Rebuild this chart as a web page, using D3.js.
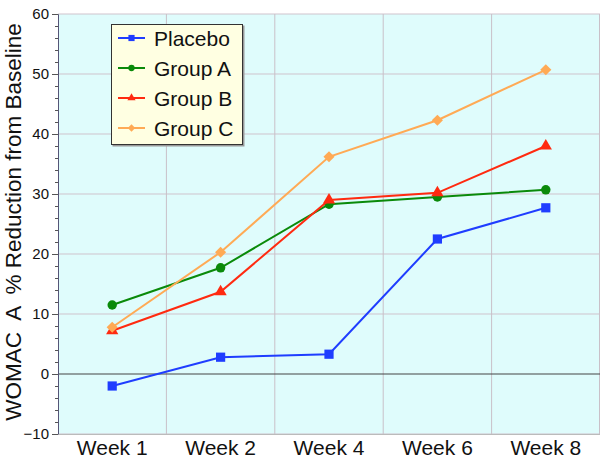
<!DOCTYPE html>
<html>
<head>
<meta charset="utf-8">
<script src="https://cdn.jsdelivr.net/npm/d3@7"></script>
<style>
 body { margin: 0; background: #fff; }
 text { font-family: "Liberation Sans", Arial, sans-serif; fill: #111; }
</style>
</head>
<body>
<svg width="600" height="463"></svg>
<script>
const weeks = ["Week 1", "Week 2", "Week 4", "Week 6", "Week 8"];
const placebo = [-2.0, 2.8, 3.3, 22.5, 27.7];
const groupA = [11.5, 17.7, 28.3, 29.5, 30.7];
const groupB = [7.2, 13.7, 29.0, 30.2, 38.0];
const groupC = [7.8, 20.3, 36.2, 42.3, 50.7];
const yTicks = [-10, 0, 10, 20, 30, 40, 50, 60];

const series = [
 { name: "Placebo", values: placebo, color: "#1f3dff", symbol: d3.symbolSquare, size: 85, rot: 0 },
 { name: "Group A", values: groupA, color: "#0a8a0a", symbol: d3.symbolCircle, size: 70, rot: 0 },
 { name: "Group B", values: groupB, color: "#ff2a10", symbol: d3.symbolTriangle, size: 65, rot: 0 },
 { name: "Group C", values: groupC, color: "#ffaa55", symbol: d3.symbolSquare, size: 62, rot: 45 }
];

const plotLeft = 58, plotTop = 14, plotRight = 600, plotBottom = 434;

const svg = d3.select("svg");

const xScale = d3.scaleBand().domain(weeks).range([plotLeft, plotRight]);
const yScale = d3.scaleLinear().domain([-10, 60]).range([plotBottom, plotTop]);

// plot background
svg.append("rect")
 .attr("x", plotLeft).attr("y", plotTop)
 .attr("width", plotRight - plotLeft).attr("height", plotBottom - plotTop)
 .attr("fill", "#dffcfc");

// horizontal grid
svg.append("g")
 .selectAll("line")
 .data(yTicks.filter(t => t !== 0))
 .enter()
 .append("line")
 .attr("x1", plotLeft).attr("x2", plotRight)
 .attr("y1", d => yScale(d)).attr("y2", d => yScale(d))
 .attr("stroke", "#cfc3cc").attr("stroke-width", 1);

// vertical grid at category boundaries
svg.append("g")
 .selectAll("line")
 .data(weeks.slice(1))
 .enter()
 .append("line")
 .attr("x1", d => xScale(d)).attr("x2", d => xScale(d))
 .attr("y1", plotTop).attr("y2", plotBottom)
 .attr("stroke", "#c9c0c8").attr("stroke-width", 1);

// right border
svg.append("line")
 .attr("x1", plotRight - 0.5).attr("x2", plotRight - 0.5)
 .attr("y1", plotTop).attr("y2", plotBottom)
 .attr("stroke", "#c9c0c8");

// zero line
svg.append("line")
 .attr("x1", plotLeft).attr("x2", plotRight)
 .attr("y1", yScale(0)).attr("y2", yScale(0))
 .attr("stroke", "#444").attr("stroke-width", 1);

// y axis with minor ticks
const yMinor = svg.append("g")
 .attr("transform", `translate(${plotLeft},0)`)
 .call(d3.axisLeft(yScale).tickValues(d3.range(-10, 61, 2)).tickSize(3).tickFormat(""));
yMinor.select(".domain").remove();
yMinor.selectAll("line").attr("stroke", "#555");

const yMajor = svg.append("g")
 .attr("transform", `translate(${plotLeft},0)`)
 .call(d3.axisLeft(yScale).tickValues(yTicks).tickSize(6).tickPadding(3));
yMajor.select(".domain").attr("stroke", "#557");
yMajor.selectAll("line").attr("stroke", "#555");
yMajor.selectAll("text")
 .style("font-family", "'Liberation Sans', Arial, sans-serif")
 .style("font-size", "15px").attr("fill", "#222");

// x axis labels
const xAxis = svg.append("g")
 .attr("transform", `translate(0,${plotBottom})`)
 .call(d3.axisBottom(xScale).tickSize(0).tickPadding(6));
xAxis.select(".domain").attr("stroke", "#bbb");
xAxis.selectAll("text")
 .style("font-family", "'Liberation Sans', Arial, sans-serif")
 .style("font-size", "21px").attr("fill", "#111");

// y title
svg.append("text")
 .attr("transform", `translate(21,222) rotate(-90)`)
 .attr("text-anchor", "middle")
 .style("font-size", "22.5px")
 .style("white-space", "pre")
 .text("WOMAC  A  % Reduction from Baseline");

const xc = d => xScale(d) + xScale.bandwidth() / 2;

const line = d3.line()
 .x((v, i) => xc(weeks[i]))
 .y(v => yScale(v));

series.forEach(s => {
 svg.append("path")
  .datum(s.values)
  .attr("fill", "none")
  .attr("stroke", s.color)
  .attr("stroke-width", 2)
  .attr("d", line);

 svg.append("g")
  .selectAll("path")
  .data(s.values)
  .enter()
  .append("path")
  .attr("transform", (v, i) => `translate(${xc(weeks[i])},${yScale(v)}) rotate(${s.rot})`)
  .attr("d", d3.symbol().type(s.symbol).size(s.size))
  .attr("fill", s.color);
});

// legend
const legend = svg.append("g").attr("transform", "translate(111,24)");
legend.append("rect")
 .attr("x", 1.5).attr("y", 1.5).attr("width", 132).attr("height", 121)
 .attr("fill", "#999");
legend.append("rect")
 .attr("x", 0.5).attr("y", 0.5).attr("width", 131).attr("height", 120)
 .attr("fill", "#ffffe2").attr("stroke", "#333");

const items = legend.selectAll(".item")
 .data(series)
 .enter()
 .append("g")
 .attr("transform", (d, i) => `translate(0,${14 + i * 30})`);

items.append("line")
 .attr("x1", 7).attr("x2", 34)
 .attr("stroke", d => d.color).attr("stroke-width", 2);
items.append("path")
 .attr("transform", d => `translate(20.5,0) rotate(${d.rot})`)
 .attr("d", d => d3.symbol().type(d.symbol).size(d.size * 0.45)())
 .attr("fill", d => d.color);
items.append("text")
 .attr("x", 43).attr("y", 7.5)
 .style("font-size", "21px")
 .text(d => d.name);
</script>
</body>
</html>
